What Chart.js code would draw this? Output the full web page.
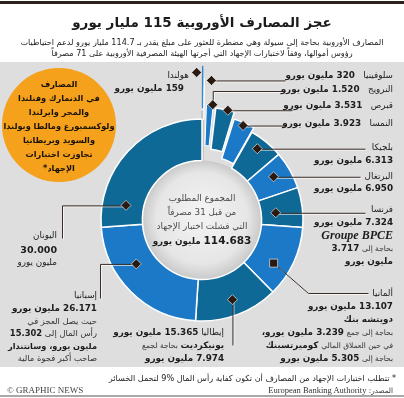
<!DOCTYPE html>
<html lang="ar">
<head>
<meta charset="utf-8">
<script src="https://cdn.jsdelivr.net/npm/chart.js@4.4.0/dist/chart.umd.min.js"></script>
<style>
  body { margin: 0; background: #fff; }
  #wrap { position: relative; width: 404px; height: 398px; overflow: hidden; background: #fff;
          font-family: "DejaVu Sans", sans-serif; color: #1c1c1c; }
  #topline { position: absolute; left: 0; top: 1px; width: 404px; height: 3px; background: #2a211d; }
  #panel { position: absolute; left: 0; top: 62px; width: 404px; height: 305px; background: #dedede; }
  #bottomline { position: absolute; left: 0; top: 395px; width: 404px; height: 2px; background: #a8a8a8; }
  #chart { position: absolute; left: 0; top: 0; }
  .t { position: absolute; direction: rtl; white-space: nowrap; text-align: center; }
  .lbl { position: absolute; direction: rtl; text-align: right; white-space: nowrap;
         font-size: 8.8px; }
  .lbl b { font-weight: bold; }
  .sm { font-size: 7.5px; color: #333; font-weight: normal; }
  .bpce { font-family: "Liberation Serif", serif; font-style: italic; font-weight: bold; font-size: 12px; direction: ltr; }
  #orange { position: absolute; left: 2px; top: 68px; width: 114px; height: 114px; border-radius: 50%;
            background: #f5a11c; }
  #orangeText { position: absolute; left: -6px; top: 77px; width: 130px; text-align: center; direction: rtl;
                font-size: 8.2px; font-weight: bold; line-height: 14px; color: #1a1208; white-space: nowrap; }
</style>
</head>
<body>
<div id="wrap">
  <div id="topline"></div>
  <div id="panel"></div>
  <div id="bottomline"></div>
  <div id="orange"></div>
  <canvas id="chart" width="404" height="398"></canvas>
  <div id="labels"></div>
</div>
<script>
// Daten: Fehlbetrag je Land (Mio. Euro), im Uhrzeigersinn ab 12 Uhr
const countries = ['هولندا', 'سلوفينيا', 'النرويج', 'قبرص', 'النمسا', 'بلجيكا', 'البرتغال', 'فرنسا', 'ألمانيا', 'إيطاليا', 'إسبانيا', 'اليونان'];
const shortfall = [159, 320, 1520, 3531, 3923, 6313, 6950, 7324, 13107, 15365, 26171, 30000];

// einzelne Banken (Mio. Euro)
const banks = ['Groupe BPCE', 'دويتشه بنك', 'كوميرتسبنك', 'يونيكرديت', 'سانتندار'];
const bankShortfall = [3717, 3239, 5305, 7974, 15302];

const passedCountries = ['الدنمارك', 'فنلندا', 'المجر', 'ايرلندا', 'لوكسمبورغ', 'مالطا', 'بولندا', 'السويد', 'بريطانيا'];

const teal = '#0f6996';
const blue = '#1b79c8';
const sliceColors = ['#2f88d4', blue, blue, teal, blue, teal, blue, teal, blue, teal, blue, teal];
// kleine Segmente werden nach außen geschoben
const sliceOffset = [106, 82, 31, 26, 11, 0, 0, 0, 0, 0, 0, 0];
const sliceBorder = [1.4, 0.8, 1, 1.5, 1.5, 1.5, 1.5, 1.5, 1.5, 1.5, 1.5, 1.5];
const sliceBorderColor = ['#2f88d4', '#ffffff', '#ffffff', '#ffffff', '#ffffff', '#ffffff',
  '#ffffff', '#ffffff', '#ffffff', '#ffffff', '#ffffff', '#ffffff'];

const fmt = v => v >= 1000 ? (v / 1000).toFixed(3) : String(v);
const total = shortfall.reduce((a, b) => a + b, 0);
const M = 'مليون يورو';

// Markierung im Segment (Winkelanteil f, Ringtiefe d) und Führungslinie zum Text
const leaders = [
  { f: 0.5, d: 0.85, dx: -6, pts: [] },
  { f: 0.5, d: 0.95, dx: 7, pts: [[285, null]] },
  { f: 0.8, d: 1.0, pts: [[null, 91], [285, null]] },
  { f: 0.63, d: 1.0, pts: [[292, null]] },
  { f: 0.5, d: 0.93, pts: [[285, null]] },
  { f: 0.41, d: 0.74, pts: [[365, null]] },
  { f: 0.43, d: 0.58, pts: [[360, null]] },
  { f: 0.57, d: 0.35, pts: [[365, null]] },
  { f: 0.65, d: 0.58, pts: [[308, 293], [368, null]], square: true },
  { f: 0.49, d: 0.62, pts: [[null, 345]] },
  { f: 0.64, d: 0.47, pts: [[100, null], [null, 298]] },
  { f: 0.16, d: 0.43, pts: [[62, null], [null, 238]] }
];

// Texte
const texts = [
  { x: 202, y: 22, w: 404, style: 'font-size:13.5px;font-weight:bold',
    html: 'عجز المصارف الأوروبية 115 مليار يورو' },
  { x: 202, y: 42, w: 404, style: 'font-size:8.1px',
    html: 'المصارف الأوروبية بحاجة إلى سيولة وهي مضطرة للعثور على مبلغ يقدر بـ 114.7 مليار يورو لدعم احتياطيات' },
  { x: 202, y: 53, w: 404, style: 'font-size:8.1px',
    html: 'رؤوس أموالها، وفقاً لاختبارات الإجهاد التي أجرتها الهيئة المصرفية الأوروبية على 71 مصرفاً' },

  { x: 189, y: 75, html: countries[0] },
  { x: 184, y: 88, html: `<b>${fmt(shortfall[0])} ${M}</b>` },
  { x: 393, y: 75, html: `${countries[1]}&nbsp;&nbsp; <b>${fmt(shortfall[1])} ${M}</b>` },
  { x: 393, y: 89, html: `${countries[2]}&nbsp;&nbsp; <b>${fmt(shortfall[2])} ${M}</b>` },
  { x: 393, y: 105, html: `${countries[3]}&nbsp;&nbsp; <b>${fmt(shortfall[3])} ${M}</b>` },
  { x: 393, y: 123, html: `${countries[4]}&nbsp;&nbsp; <b>${fmt(shortfall[4])} ${M}</b>` },
  { x: 393, y: 147, html: countries[5] },
  { x: 393, y: 160, html: `<b>${fmt(shortfall[5])} ${M}</b>` },
  { x: 393, y: 176, html: countries[6] },
  { x: 393, y: 188, html: `<b>${fmt(shortfall[6])} ${M}</b>` },
  { x: 393, y: 209, html: countries[7] },
  { x: 393, y: 222, html: `<b>${fmt(shortfall[7])} ${M}</b>` },
  { x: 393, y: 235, html: `<span class="bpce">${banks[0]}</span>` },
  { x: 393, y: 248, html: `<span class="sm">بحاجة إلى</span> <b>${fmt(bankShortfall[0])}</b>` },
  { x: 393, y: 261, html: `<b>${M}</b>` },
  { x: 393, y: 293, html: countries[8] },
  { x: 393, y: 306, html: `<b>${fmt(shortfall[8])} ${M}</b>` },
  { x: 393, y: 319, html: `<b>${banks[1]}</b>` },
  { x: 393, y: 332, html: `<span class="sm">بحاجة إلى جمع</span> <b>${fmt(bankShortfall[1])} ${M}،</b>` },
  { x: 393, y: 345, html: `<span class="sm">في حين العملاق المالي</span> <b>${banks[2]}</b>` },
  { x: 393, y: 358, html: `<span class="sm">بحاجة إلى</span> <b>${fmt(bankShortfall[2])} ${M}</b>` },

  { x: 224, y: 332, html: `${countries[9]} <b>${fmt(shortfall[9])} ${M}</b>` },
  { x: 224, y: 345, html: `<b>${banks[3]}</b> <span class="sm">بحاجة لجمع</span>` },
  { x: 224, y: 358, html: `<b>${fmt(bankShortfall[3])} ${M}</b>` },

  { x: 97, y: 295, html: countries[10] },
  { x: 97, y: 308, html: `<b>${fmt(shortfall[10])} ${M}</b>` },
  { x: 97, y: 321, style: 'font-size:8.4px', html: '<span style="color:#333">حيث يصل العجز في</span>' },
  { x: 97, y: 333, style: 'font-size:8.4px', html: `<span style="color:#333">رأس المال إلى</span> <b>${fmt(bankShortfall[4])}</b>` },
  { x: 97, y: 346, style: 'font-size:8.2px', html: `<b>${M}، و${banks[4]}</b>` },
  { x: 97, y: 358, style: 'font-size:8.4px', html: '<span style="color:#333">صاحب أكبر فجوة مالية</span>' },

  { x: 57, y: 235, html: countries[11] },
  { x: 57, y: 250, html: `<b style="font-size:9.5px">${fmt(shortfall[11])}</b>` },
  { x: 57, y: 262, html: M },

  { x: 202, y: 198, w: 140, style: 'font-size:8.8px;color:#4a4a4a', html: 'المجموع المطلوب' },
  { x: 202, y: 212, w: 140, style: 'font-size:8.8px;color:#4a4a4a', html: 'من قبل 31 مصرفاً' },
  { x: 202, y: 226, w: 140, style: 'font-size:8.8px;color:#4a4a4a', html: 'التي فشلت اختبار الإجهاد' },
  { x: 202, y: 240, w: 140, style: 'font-size:8.8px',
    html: `<b style="font-size:10.5px">${fmt(total)}</b> <b>${M}</b>` },

  { x: 396, y: 378, style: 'font-size:8.1px', html: '* تتطلب اختبارات الإجهاد من المصارف أن تكون كفاية رأس المال %9 لتحمل الخسائر' },
  { x: 393, y: 390, style: 'font-size:7.2px;color:#333',
    html: 'المصدر: <span style="font-family:\'Liberation Serif\',serif;font-size:8.5px">European Banking Authority</span>' }
];

const box = document.getElementById('labels');
texts.forEach(t => {
  const d = document.createElement('div');
  d.className = t.w ? 't' : 'lbl';
  d.innerHTML = t.html;
  d.style.cssText = (t.style || '') + ';line-height:12px';
  d.style.top = (t.y - 6) + 'px';
  if (t.w) {
    d.style.left = (t.x - t.w / 2) + 'px';
    d.style.width = t.w + 'px';
  } else {
    d.style.right = (404 - t.x) + 'px';
  }
  box.appendChild(d);
});

// Kreis mit Ländern, die den Test bestanden haben
const ot = document.createElement('div');
ot.id = 'orangeText';
ot.innerHTML = 'المصارف<br>في ' + passedCountries[0] + ' و' + passedCountries[1] + '<br>و' + passedCountries[2] + ' و' +
  passedCountries[3] + '<br>و' + passedCountries[4] + ' و' + passedCountries[5] + ' و' + passedCountries[6] +
  '<br>و' + passedCountries[7] + ' و' + passedCountries[8] + '<br>تجاوزت اختبارات<br>الإجهاد*';
box.appendChild(ot);

const cr = document.createElement('div');
cr.className = 't';
cr.style.cssText = 'left:7px;top:385px;direction:ltr;text-align:left;font-family:"Liberation Serif",serif;font-size:9px;color:#444;line-height:11px';
cr.textContent = '© GRAPHIC NEWS';
box.appendChild(cr);

function arcShift(el, circ) {
  const off = (el.options.offset || 0) / 4;
  const fix = 1 - Math.sin(Math.min(Math.PI, circ || 0));
  return off + off * fix;
}

// Farbverlauf im Ring (dunkler zur Innenkante hin)
function ringFill(ctx) {
  const el = ctx.element;
  const base = sliceColors[ctx.dataIndex];
  if (!el || !el.outerRadius) return base;
  const c = ctx.chart.ctx;
  const g = c.createRadialGradient(el.x, el.y, el.innerRadius, el.x, el.y, el.outerRadius + 40);
  g.addColorStop(0, base === teal ? '#0b5378' : base === blue ? '#155f9f' : base);
  g.addColorStop(0.25, base);
  g.addColorStop(1, base);
  return g;
}

const ringExtras = {
  id: 'ringExtras',
  beforeDatasetsDraw(chart) {
    const el = chart.getDatasetMeta(0).data[11];
    const p = el.getProps(['x', 'y', 'innerRadius'], true);
    const ctx = chart.ctx;
    const g = ctx.createRadialGradient(p.x, p.y - 8, 4, p.x, p.y, p.innerRadius);
    g.addColorStop(0, '#f3f3f3');
    g.addColorStop(0.75, '#e6e6e6');
    g.addColorStop(1, '#c9c9c9');
    ctx.save();
    ctx.beginPath();
    ctx.arc(p.x, p.y, p.innerRadius, 0, Math.PI * 2);
    ctx.fillStyle = g;
    ctx.fill();
    // schmaler Steg zur Niederlande-Markierung
    ctx.fillStyle = '#c4c4c4';
    ctx.fillRect(p.x - 1, p.y - 109, 3, 50);
    ctx.restore();
  },
  afterDatasetsDraw(chart) {
    const meta = chart.getDatasetMeta(0);
    const ctx = chart.ctx;
    leaders.forEach((ld, i) => {
      const el = meta.data[i];
      const p = el.getProps(['x', 'y', 'startAngle', 'endAngle', 'innerRadius', 'outerRadius', 'circumference'], true);
      const a = p.startAngle + ld.f * (p.endAngle - p.startAngle);
      const r = p.innerRadius + ld.d * (p.outerRadius - p.innerRadius) + arcShift(el, p.circumference);
      const mx = p.x + Math.cos(a) * r + (ld.dx || 0);
      const my = p.y + Math.sin(a) * r;
      // Führungslinie
      let px = mx, py = my;
      const path = [[mx, my]];
      ld.pts.forEach(q => {
        px = q[0] == null ? px : q[0];
        py = q[1] == null ? py : q[1];
        path.push([px, py]);
      });
      ctx.save();
      if (path.length > 1) {
        [['rgba(255,255,255,0.7)', 1], ['#3a2c25', 0]].forEach(([col, o]) => {
          ctx.beginPath();
          ctx.strokeStyle = col;
          ctx.lineWidth = 1;
          path.forEach(([x, y], k) => k ? ctx.lineTo(x + 0.5 + o, y + 0.5 + o) : ctx.moveTo(x + 0.5 + o, y + 0.5 + o));
          ctx.stroke();
        });
      }
      // Raute bzw. Quadrat
      ctx.fillStyle = '#2a1a12';
      ctx.strokeStyle = 'rgba(255,255,255,0.6)';
      ctx.lineWidth = 1;
      ctx.beginPath();
      if (ld.square) {
        ctx.rect(mx - 4, my - 4, 8, 8);
      } else {
        ctx.moveTo(mx, my - 5);
        ctx.lineTo(mx + 5, my);
        ctx.lineTo(mx, my + 5);
        ctx.lineTo(mx - 5, my);
        ctx.closePath();
      }
      ctx.fill();
      ctx.stroke();
      ctx.restore();
    });
  }
};

new Chart(document.getElementById('chart').getContext('2d'), {
  type: 'doughnut',
  data: {
    labels: countries,
    datasets: [{
      data: shortfall,
      backgroundColor: ringFill,
      borderColor: sliceBorderColor,
      borderWidth: sliceBorder,
      offset: sliceOffset
    }]
  },
  options: {
    responsive: false,
    devicePixelRatio: 1,
    animation: false,
    radius: 101,
    cutout: '59%',
    layout: { padding: { top: 62, bottom: 20, left: 0, right: 0 } },
    plugins: {
      legend: { display: false },
      tooltip: { enabled: false },
      title: { display: false }
    }
  },
  plugins: [ringExtras]
});
</script>
</body>
</html>
